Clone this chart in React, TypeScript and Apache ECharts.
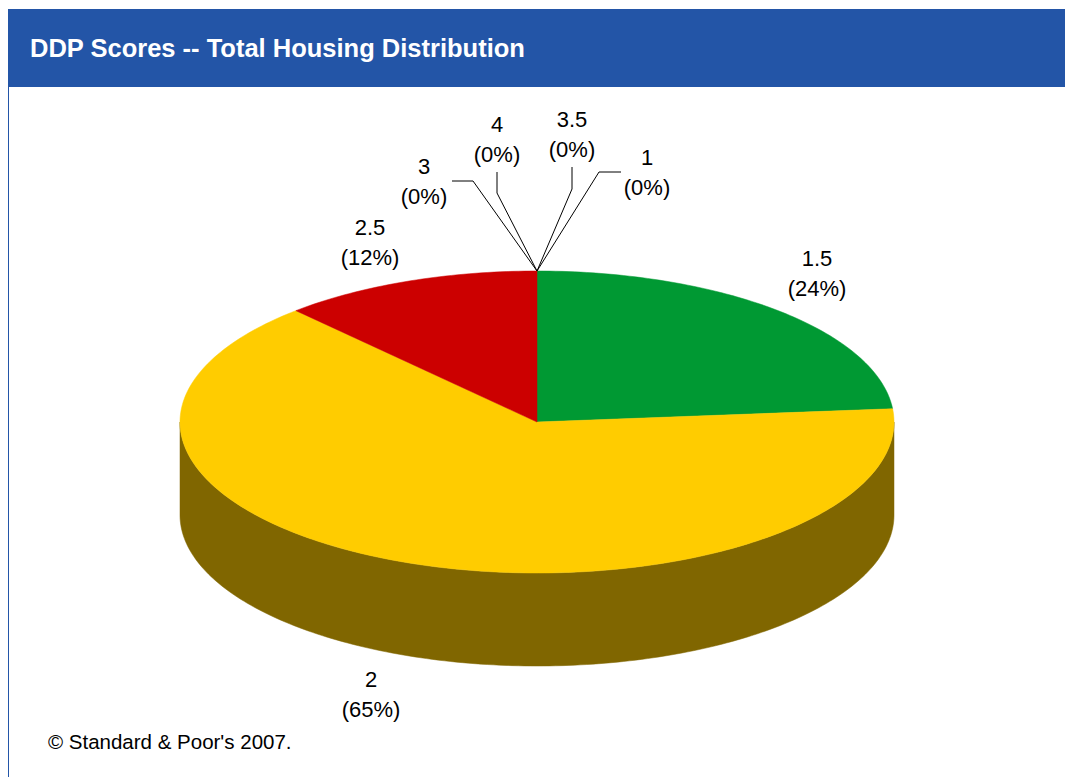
import React, { useEffect, useRef } from "react";
import * as echarts from "echarts";

// ---- data ----
const categories = ["1", "1.5", "2", "2.5", "3", "3.5", "4"];
const shares = [0, 23.6, 64.6, 11.8, 0, 0, 0];
const sliceColors = ["#3366CC", "#009933", "#FFCC00", "#CC0000", "#9966CC", "#FF6600", "#66CCFF"];
const titleText = "DDP Scores -- Total Housing Distribution";
const footnoteText = "© Standard & Poor's 2007.";

// ---- layout (not data) ----
const CX = 537;
const CY = 422;
const RX = 357;
const RY = 151;
const DEPTH = 93;
const FONT = 'Arial, "Liberation Sans", Helvetica, sans-serif';

const labelLayout: Record<string, { x: number; y: number; elbow?: number[]; end?: number[] }> = {
  "1": { x: 647, y: 172, elbow: [599, 172], end: [621, 172] },
  "1.5": { x: 817, y: 273 },
  "2": { x: 371, y: 694 },
  "2.5": { x: 370, y: 242 },
  "3": { x: 424, y: 181, elbow: [473, 181], end: [452, 181] },
  "3.5": { x: 572, y: 134, elbow: [572, 189], end: [572, 167] },
  "4": { x: 497, y: 139, elbow: [497, 193], end: [497, 172] },
};

const total = shares.reduce((a, b) => a + b, 0);
const startAngles: number[] = [];
const endAngles: number[] = [];
{
  let acc = 0;
  shares.forEach((v) => {
    startAngles.push((acc / total) * 2 * Math.PI);
    acc += v;
    endAngles.push((acc / total) * 2 * Math.PI);
  });
}

function pt(theta: number, dy = 0): number[] {
  return [CX + RX * Math.sin(theta), CY - RY * Math.cos(theta) + dy];
}

function arcPoints(a0: number, a1: number, dy = 0): number[][] {
  const n = Math.max(2, Math.ceil(((a1 - a0) / (2 * Math.PI)) * 360));
  const pts: number[][] = [];
  for (let i = 0; i <= n; i++) pts.push(pt(a0 + ((a1 - a0) * i) / n, dy));
  return pts;
}

function darken(hex: string, f: number): string {
  const n = parseInt(hex.slice(1), 16);
  const r = Math.round(((n >> 16) & 255) * f);
  const g = Math.round(((n >> 8) & 255) * f);
  const b = Math.round((n & 255) * f);
  return `rgb(${r},${g},${b})`;
}

export default function App() {
  const ref = useRef<HTMLDivElement>(null);
  useEffect(() => {
    if (!ref.current) return;
    const chart = echarts.init(ref.current, undefined, { renderer: "svg" });
    const data = shares.map((v, i) => ({ name: categories[i], value: [i, v] }));

    const sideSeries = {
      type: "custom",
      coordinateSystem: "none",
      z: 1,
      data,
      renderItem: (params: any) => {
        const i = params.dataIndex;
        const a0 = Math.max(startAngles[i], Math.PI / 2);
        const a1 = Math.min(endAngles[i], (3 * Math.PI) / 2);
        if (shares[i] <= 0 || a1 <= a0) return { type: "group", children: [] };
        const top = arcPoints(a0, a1, 0);
        const bottom = arcPoints(a0, a1, DEPTH).reverse();
        return {
          type: "polygon",
          shape: { points: top.concat(bottom) },
          style: { fill: darken(sliceColors[i], 0.5), stroke: darken(sliceColors[i], 0.5), lineWidth: 0.5 },
        };
      },
    };

    const topSeries = {
      type: "custom",
      coordinateSystem: "none",
      z: 2,
      data,
      renderItem: (params: any) => {
        const i = params.dataIndex;
        if (shares[i] <= 0) return { type: "group", children: [] };
        const pts = [[CX, CY]].concat(arcPoints(startAngles[i], endAngles[i], 0));
        return {
          type: "polygon",
          shape: { points: pts },
          style: { fill: sliceColors[i], stroke: sliceColors[i], lineWidth: 0.5 },
        };
      },
    };

    const labelSeries = {
      type: "custom",
      coordinateSystem: "none",
      z: 3,
      data,
      renderItem: (params: any, api: any) => {
        const i = params.dataIndex;
        const name = categories[i];
        const lay = labelLayout[name];
        const pct = Math.round((api.value(1) / total) * 100);
        const children: any[] = [];
        if (lay.elbow && lay.end) {
          const mid = (startAngles[i] + endAngles[i]) / 2;
          const p0 = pt(mid);
          children.push({
            type: "polyline",
            shape: { points: [p0, lay.elbow, lay.end] },
            style: { stroke: "#000", lineWidth: 1, fill: null },
          });
        }
        children.push({
          type: "text",
          style: {
            text: `${name}\n(${pct}%)`,
            x: lay.x,
            y: lay.y,
            align: "center",
            verticalAlign: "middle",
            fontSize: 22,
            lineHeight: 30,
            fontFamily: FONT,
            fill: "#000",
          },
        });
        return { type: "group", children };
      },
    };

    chart.setOption({
      animation: false,
      backgroundColor: "#ffffff",
      graphic: [
        { type: "rect", shape: { x: 8, y: 9, width: 1057, height: 78 }, style: { fill: "#2355A7" } },
        { type: "line", shape: { x1: 8.5, y1: 87, x2: 8.5, y2: 777 }, style: { stroke: "#2355A7", lineWidth: 1 } },
        {
          type: "text",
          x: 30,
          y: 48,
          style: { text: titleText, fill: "#ffffff", fontSize: 25.5, fontWeight: "bold", fontFamily: FONT, verticalAlign: "middle" },
        },
        {
          type: "text",
          x: 48,
          y: 741,
          style: { text: footnoteText, fill: "#000000", fontSize: 20.5, fontFamily: FONT, verticalAlign: "middle" },
        },
      ],
      series: [sideSeries, topSeries, labelSeries],
    });
    return () => chart.dispose();
  }, []);
  return <div ref={ref} style={{ position: "fixed", left: 0, top: 0, width: 1065, height: 777 }} />;
}
